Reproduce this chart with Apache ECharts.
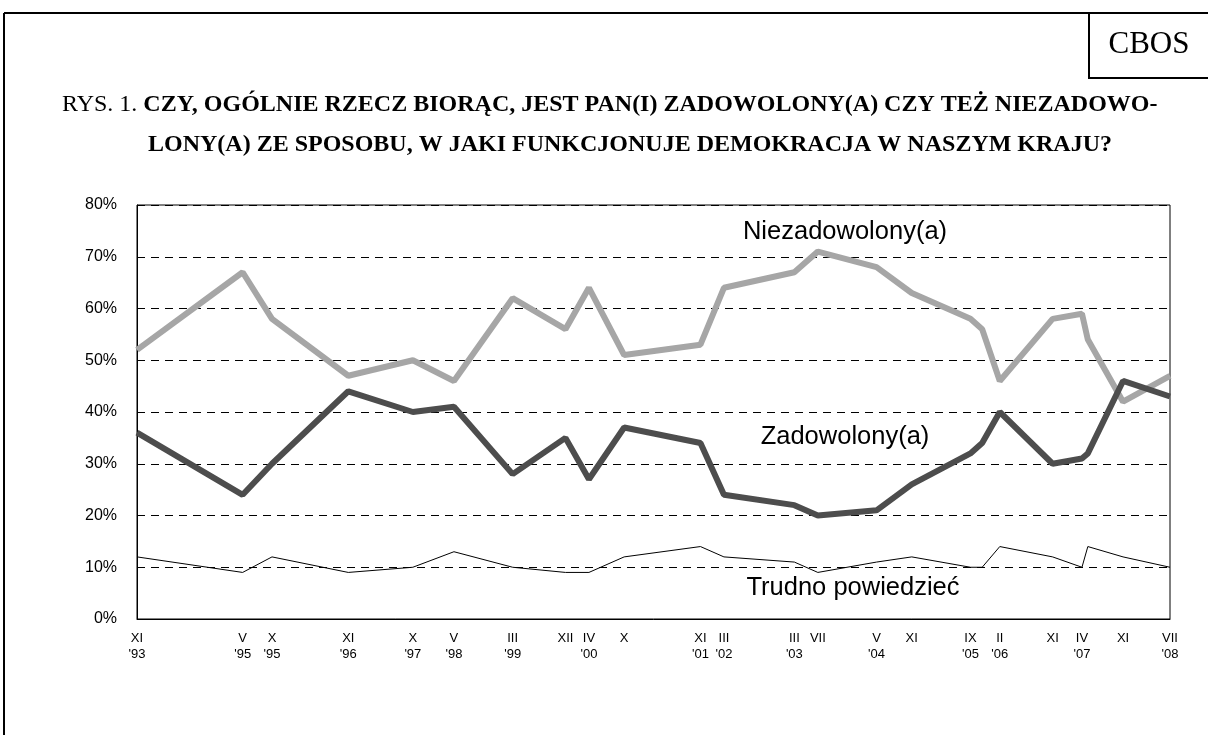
<!DOCTYPE html>
<html><head><meta charset="utf-8">
<script src="https://cdn.jsdelivr.net/npm/echarts@6/dist/echarts.min.js"></script>
<style>html,body{margin:0;padding:0;background:#fff}#c{width:1208px;height:735px}</style>
</head><body><div id="c"></div>
<script>
// Survey dates (YYYY-MM)
const surveyDates = ['1993-11','1995-05','1995-10','1996-11','1997-10','1998-05','1999-03','1999-12','2000-04','2000-10','2001-11','2002-03','2003-03','2003-07','2004-05','2004-11','2005-09','2005-11','2006-02','2006-11','2007-04','2007-05','2007-11','2008-07'];
const niezadowoleni = [52,67,58,47,50,46,62,56,64,51,53,64,67,71,68,63,58,56,46,58,59,54,42,47];
const zadowoleni    = [36,24,30,44,40,41,28,35,27,37,34,24,22,20,21,26,32,34,40,30,31,32,46,43];
const trudno        = [12,9,12,9,10,13,10,9,9,12,14,12,11,9,11,12,10,10,14,12,10,14,12,10];

// X tick labels (date -> text)
const tickDates  = ['1993-11','1995-05','1995-10','1996-11','1997-10','1998-05','1999-03','1999-12','2000-04','2000-10','2001-11','2002-03','2003-03','2003-07','2004-05','2004-11','2005-09','2006-02','2006-11','2007-04','2007-11','2008-07'];
const tickLabels = ["XI\n'93","V\n'95","X\n'95","XI\n'96","X\n'97","V\n'98","III\n'99","XII","IV\n'00","X","XI\n'01","III\n'02","III\n'03","VII","V\n'04","XI","IX\n'05","II\n'06","XI","IV\n'07","XI","VII\n'08"];

const seriesNames = ['Niezadowolony(a)','Zadowolony(a)','Trudno powiedzieć'];
const titleNormal = 'RYS. 1. ';
const titleBold1 = 'CZY, OGÓLNIE RZECZ BIORĄC, JEST PAN(I) ZADOWOLONY(A) CZY TEŻ NIEZADOWO-';
const titleBold2 = 'LONY(A) ZE SPOSOBU, W JAKI FUNKCJONUJE DEMOKRACJA W NASZYM KRAJU?';

const startDate = surveyDates[0];
function monthIndex(s){
  const [y,m] = s.split('-').map(Number);
  const [y0,m0] = startDate.split('-').map(Number);
  return (y-y0)*12 + (m-m0);
}
const maxIdx = monthIndex(surveyDates[surveyDates.length-1]);
const tickIdx = tickDates.map(monthIndex);
const labelMap = {};
tickIdx.forEach((v,i)=>{ labelMap[v] = tickLabels[i]; });

function pairs(vals){ return surveyDates.map((d,i)=>[monthIndex(d), vals[i]]); }

const chart = echarts.init(document.getElementById('c'));
chart.setOption({
  animation: false,
  backgroundColor: '#fff',
  grid: { left: 137, right: 38, top: 205, bottom: 116, show: true, borderColor: '#000', borderWidth: 1, containLabel: false },
  xAxis: {
    type: 'value', min: 0, max: maxIdx,
    axisLine: { show: true, lineStyle: { color: '#000', width: 1 } },
    axisTick: { show: false },
    splitLine: { show: false },
    axisLabel: {
      customValues: tickIdx,
      showMinLabel: true, showMaxLabel: true,
      formatter: v => labelMap[v] || '',
      color: '#000', fontFamily: 'Liberation Sans, Arial', fontSize: 13, lineHeight: 16, margin: 11
    }
  },
  yAxis: {
    type: 'value', min: 0, max: 80, interval: 10,
    axisLine: { show: true, lineStyle: { color: '#000', width: 1 } },
    axisTick: { show: false },
    splitLine: { show: true, lineStyle: { color: '#000', type: [8,6], width: 1 } },
    axisLabel: { formatter: '{value}%', color: '#000', fontFamily: 'Liberation Sans, Arial', fontSize: 16, margin: 20 }
  },
  series: [
    { name: seriesNames[0], type: 'line', data: pairs(niezadowoleni), symbol: 'none', lineStyle: { color: '#a6a6a6', width: 6 }, z: 2 },
    { name: seriesNames[1], type: 'line', data: pairs(zadowoleni), symbol: 'none', lineStyle: { color: '#4d4d4d', width: 6 }, z: 3 },
    { name: seriesNames[2], type: 'line', data: pairs(trudno), symbol: 'none', lineStyle: { color: '#000', width: 1 }, z: 4 }
  ],
  graphic: [
    { type: 'line', shape: { x1: 4, y1: 13, x2: 1208, y2: 13 }, style: { stroke: '#000', lineWidth: 2 } },
    { type: 'line', shape: { x1: 4, y1: 13, x2: 4, y2: 735 }, style: { stroke: '#000', lineWidth: 2 } },
    { type: 'rect', shape: { x: 1089, y: 13, width: 130, height: 65 }, style: { stroke: '#000', lineWidth: 2, fill: 'none' } },
    { type: 'text', x: 1149, y: 45, style: { text: 'CBOS', fontFamily: 'Liberation Serif, Times New Roman', fontSize: 31, fill: '#000', align: 'center', verticalAlign: 'middle' } },
    { type: 'text', x: 62, y: 105, style: { text: '{n|' + titleNormal + '}{b|' + titleBold1 + '}', verticalAlign: 'middle', rich: {
      n: { fontFamily: 'Liberation Serif', fontSize: 24, fill: '#000' },
      b: { fontFamily: 'Liberation Serif', fontSize: 24, fontWeight: 'bold', fill: '#000' } } } },
    { type: 'text', x: 148, y: 145, style: { text: titleBold2, fontFamily: 'Liberation Serif', fontSize: 24, fontWeight: 'bold', fill: '#000', verticalAlign: 'middle' } },
    { type: 'text', x: 845, y: 232, style: { text: seriesNames[0], fontFamily: 'Liberation Sans, Arial', fontSize: 25.5, fill: '#000', align: 'center', verticalAlign: 'middle' } },
    { type: 'text', x: 845, y: 437, style: { text: seriesNames[1], fontFamily: 'Liberation Sans, Arial', fontSize: 25.5, fill: '#000', align: 'center', verticalAlign: 'middle' } },
    { type: 'text', x: 853, y: 588, style: { text: seriesNames[2], fontFamily: 'Liberation Sans, Arial', fontSize: 25.5, fill: '#000', align: 'center', verticalAlign: 'middle' } }
  ]
});
</script></body></html>
